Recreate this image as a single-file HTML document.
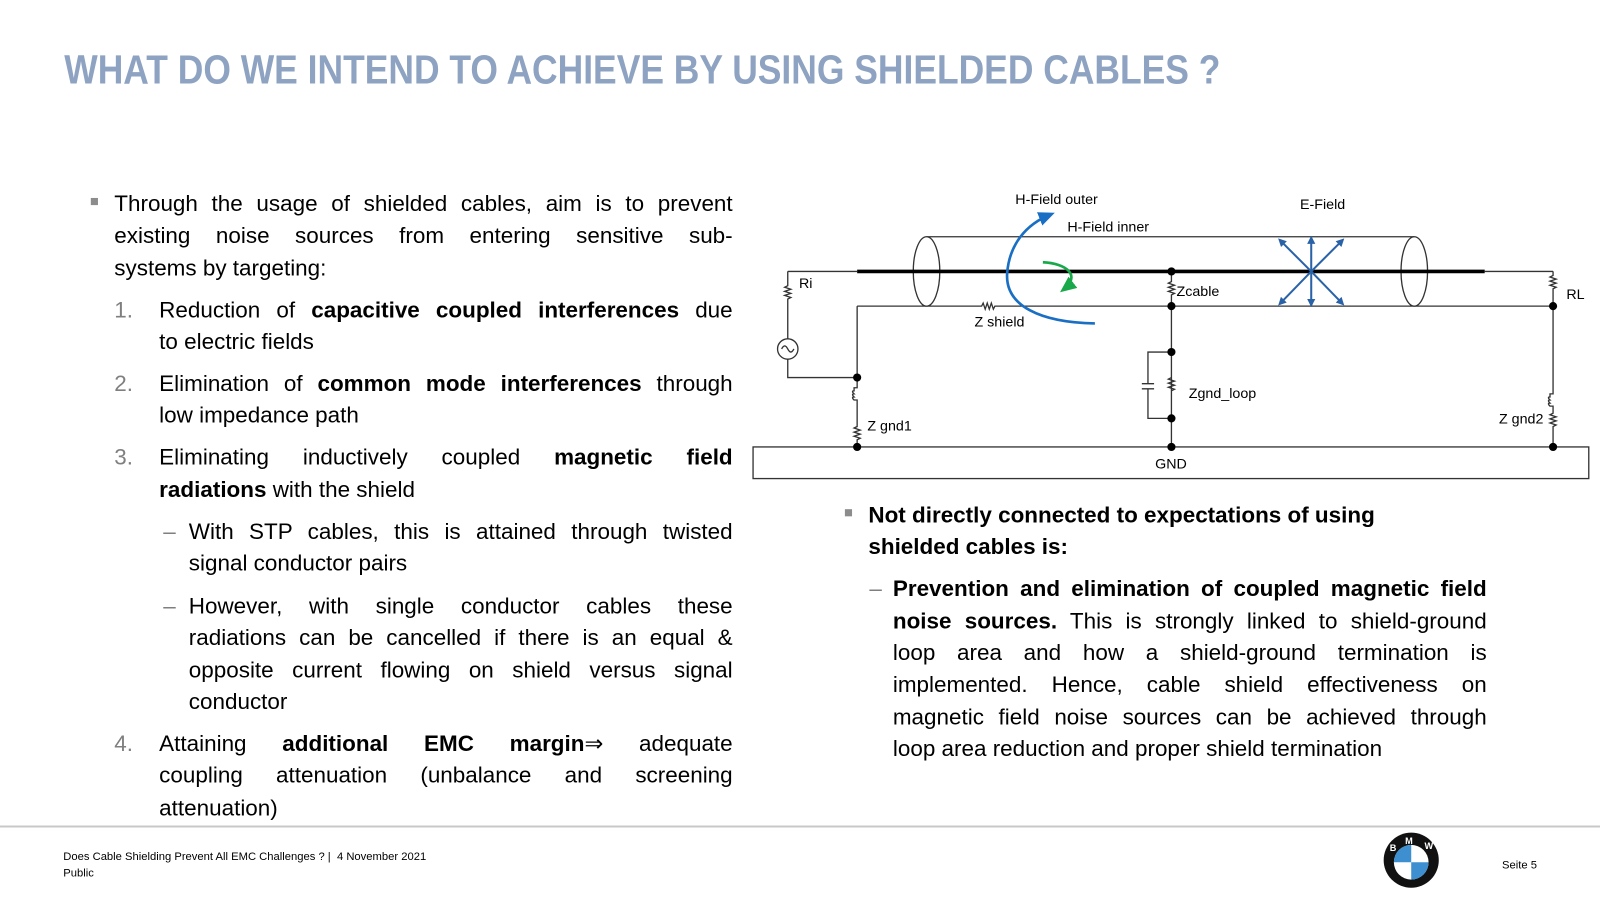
<!DOCTYPE html>
<html><head><meta charset="utf-8">
<style>
body{margin:0;width:1600px;height:900px;background:#fff;position:relative;overflow:hidden;font-family:"Liberation Sans",Arial,sans-serif;color:#000}
#w{position:absolute;left:0;top:0;width:1568px;height:882px;transform:scale(1.020408);transform-origin:0 0}
.L{position:absolute;height:31px;line-height:31px;font-size:22px;white-space:nowrap}
.j{text-align:justify;text-align-last:justify;white-space:normal}
.n{position:absolute;font-size:22px;line-height:31px;color:#7f7f7f}
.bul{position:absolute;width:7px;height:7px;background:#8c8c8c}
.dash{position:absolute;font-size:22px;line-height:31px;color:#7f7f7f}
b{font-weight:bold}
.ft{position:absolute;font-size:11px;color:#000}
</style></head><body><div id="w">
<svg width="1600" height="120" style="position:absolute;left:0;top:0">
<text x="63" y="82" font-family="Liberation Sans,Arial,sans-serif" font-weight="bold" font-size="40" fill="#8ea3c2" textLength="1133" lengthAdjust="spacingAndGlyphs">WHAT DO WE INTEND TO ACHIEVE BY USING SHIELDED CABLES ?</text>
</svg>

<div class="bul" style="left:89px;top:194px"></div>
<div class="L j" style="left:112px;top:184px;width:606px">Through the usage of shielded cables, aim is to prevent</div>
<div class="L j" style="left:112px;top:215px;width:606px">existing noise sources from entering sensitive sub-</div>
<div class="L" style="left:112px;top:247px">systems by targeting:</div>

<div class="n" style="left:112px;top:288px">1.</div>
<div class="L j" style="left:156px;top:288px;width:562px">Reduction of <b>capacitive coupled interferences</b> due</div>
<div class="L" style="left:156px;top:319px">to electric fields</div>
<div class="n" style="left:112px;top:360px">2.</div>
<div class="L j" style="left:156px;top:360px;width:562px">Elimination of <b>common mode interferences</b> through</div>
<div class="L" style="left:156px;top:391px">low impedance path</div>
<div class="n" style="left:112px;top:432px">3.</div>
<div class="L j" style="left:156px;top:432px;width:562px">Eliminating inductively coupled <b>magnetic field</b></div>
<div class="L" style="left:156px;top:464px"><b>radiations</b> with the shield</div>
<div class="dash" style="left:160px;top:505px">–</div>
<div class="L j" style="left:185px;top:505px;width:533px">With STP cables, this is attained through twisted</div>
<div class="L" style="left:185px;top:536px">signal conductor pairs</div>
<div class="dash" style="left:160px;top:578px">–</div>
<div class="L j" style="left:185px;top:578px;width:533px">However, with single conductor cables these</div>
<div class="L j" style="left:185px;top:609px;width:533px">radiations can be cancelled if there is an equal &amp;</div>
<div class="L j" style="left:185px;top:641px;width:533px">opposite current flowing on shield versus signal</div>
<div class="L" style="left:185px;top:672px">conductor</div>
<div class="n" style="left:112px;top:713px">4.</div>
<div class="L j" style="left:156px;top:713px;width:562px">Attaining <b>additional EMC margin</b>&#8658; adequate</div>
<div class="L j" style="left:156px;top:744px;width:562px">coupling attenuation (unbalance and screening</div>
<div class="L" style="left:156px;top:776px">attenuation)</div>

<div class="bul" style="left:828px;top:499px"></div>
<div class="L" style="left:851px;top:489px"><b>Not directly connected to expectations of using</b></div>
<div class="L" style="left:851px;top:520px"><b>shielded cables is:</b></div>
<div class="dash" style="left:852px;top:561px">–</div>
<div class="L j" style="left:875px;top:561px;width:582px"><b>Prevention and elimination of coupled magnetic field</b></div>
<div class="L j" style="left:875px;top:593px;width:582px"><b>noise sources.</b> This is strongly linked to shield-ground</div>
<div class="L j" style="left:875px;top:624px;width:582px">loop area and how a shield-ground termination is</div>
<div class="L j" style="left:875px;top:655px;width:582px">implemented. Hence, cable shield effectiveness on</div>
<div class="L j" style="left:875px;top:687px;width:582px">magnetic field noise sources can be achieved through</div>
<div class="L" style="left:875px;top:718px">loop area reduction and proper shield termination</div>

<svg width="1600" height="900" style="position:absolute;left:0;top:0" font-family="Liberation Sans,Arial,sans-serif" font-size="14">
<defs>
<marker id="ab" markerWidth="8" markerHeight="8" refX="6" refY="4" orient="auto" markerUnits="userSpaceOnUse"><path d="M0,0 L8,4 L0,8 Z" fill="#2a62a8"/></marker>
<marker id="ab2" markerWidth="16" markerHeight="14" refX="12" refY="7" orient="auto" markerUnits="userSpaceOnUse"><path d="M0,0 L16,7 L0,14 Z" fill="#1a6fc4"/></marker>
<marker id="ag" markerWidth="16" markerHeight="14" refX="12" refY="7" orient="auto" markerUnits="userSpaceOnUse"><path d="M0,0 L16,7 L0,14 Z" fill="#19a84a"/></marker>
</defs>
<g stroke="#333" stroke-width="1.3" fill="none">
<rect x="738" y="438" width="819" height="31"/>
<line x1="908" y1="232" x2="1386" y2="232"/>
<ellipse cx="908" cy="266" rx="13" ry="34" fill="#fff"/>
<ellipse cx="1386" cy="266" rx="13" ry="34"/>
<line x1="772" y1="266" x2="840" y2="266"/>
<line x1="1455" y1="266" x2="1522" y2="266"/>
<path d="M772,266 V280 l-3,1.5 l6,2 l-6,2 l6,2 l-6,2 l6,2 l-3,1.5 V332"/>
<circle cx="772" cy="342" r="10"/>
<path d="M766,342 q3,-6 6,0 q3,6 6,0"/>
<path d="M772,352 V370 H840"/>
<path d="M840,300 H962 l1.5,-3 l2,6 l2,-6 l2,6 l2,-6 l2,6 l1.5,-3 H1522"/>
<path d="M840,300 V380 h-3 v3 q-3,0 0,3 q-3,0 0,3 q-3,0 0,3 h3 V418 l-3,1.5 l6,2 l-6,2 l6,2 l-6,2 l6,2 l-3,1.5 V438"/>
<path d="M1148,266 V276 l-3,1.5 l6,2 l-6,2 l6,2 l-6,2 l6,2 l-3,1.5 V438"/>
<path d="M1148,345 H1125 V376 M1119,376 H1131 M1119,381 H1131 M1125,381 V410 H1148"/>
<path d="M1148,370 l-3,1.5 l6,2 l-6,2 l6,2 l-6,2 l6,2 l-3,1.5"/>
<path d="M1522,266 V270 l-3,1.5 l6,2 l-6,2 l6,2 l-6,2 l6,2 l-3,1.5 V386 h-3 v3 q-3,0 0,3 q-3,0 0,3 q-3,0 0,3 h3 V405 l-3,1.5 l6,2 l-6,2 l6,2 l-6,2 l6,2 l-3,1.5 V438"/>
</g>
<line x1="840" y1="266" x2="1455" y2="266" stroke="#000" stroke-width="3.5"/>
<g fill="#000">
<circle cx="840" cy="370" r="4"/><circle cx="840" cy="438" r="4"/>
<circle cx="1148" cy="266" r="4"/><circle cx="1148" cy="300" r="4"/><circle cx="1148" cy="345" r="4"/><circle cx="1148" cy="410" r="4"/><circle cx="1148" cy="438" r="4"/>
<circle cx="1522" cy="300" r="4"/><circle cx="1522" cy="438" r="4"/>
</g>
<path d="M1073,317 C1020,316 985,300 987,268 C989,240 1005,220 1030,210" stroke="#1a6fc4" stroke-width="2.6" fill="none" marker-end="url(#ab2)"/>
<path d="M1022,257 C1045,258 1060,270 1042,284" stroke="#19a84a" stroke-width="2.6" fill="none" marker-end="url(#ag)"/>
<g stroke="#2a62a8" stroke-width="2" marker-end="url(#ab)">
<line x1="1285" y1="266" x2="1254" y2="235"/><line x1="1285" y1="266" x2="1285" y2="233"/><line x1="1285" y1="266" x2="1316" y2="235"/>
<line x1="1285" y1="266" x2="1254" y2="298"/><line x1="1285" y1="266" x2="1285" y2="299"/><line x1="1285" y1="266" x2="1316" y2="298"/>
</g>
<g fill="#000">
<text x="783" y="282">Ri</text>
<text x="955" y="320">Z shield</text>
<text x="1153" y="290">Zcable</text>
<text x="1165" y="390">Zgnd_loop</text>
<text x="850" y="422">Z gnd1</text>
<text x="1469" y="415">Z gnd2</text>
<text x="1535" y="293">RL</text>
<text x="1132" y="459">GND</text>
<text x="995" y="200">H-Field outer</text>
<text x="1046" y="227">H-Field inner</text>
<text x="1274" y="205">E-Field</text>
</g>
<line x1="0" y1="810" x2="1568" y2="810" stroke="#c8c8c8" stroke-width="2"/>
<circle cx="1383" cy="843" r="27" fill="#111"/>
<circle cx="1383" cy="845" r="17" fill="#fff"/>
<path d="M1383,845 V828 A17,17 0 0 0 1366,845 Z" fill="#3d8fd0"/>
<path d="M1383,845 H1400 A17,17 0 0 1 1383,862 Z" fill="#3d8fd0"/>
<text x="1377" y="827" fill="#fff" font-size="9" font-weight="bold">M</text>
<text x="1362" y="834" fill="#fff" font-size="9" font-weight="bold">B</text>
<text x="1396" y="832" fill="#fff" font-size="9" font-weight="bold">W</text>
</svg>

<div class="ft" style="left:62px;top:834px">Does Cable Shielding Prevent All EMC Challenges ? |&nbsp; 4 November 2021</div>
<div class="ft" style="left:62px;top:850px">Public</div>
<div class="ft" style="left:1472px;top:842px">Seite 5</div>
</div></body></html>
